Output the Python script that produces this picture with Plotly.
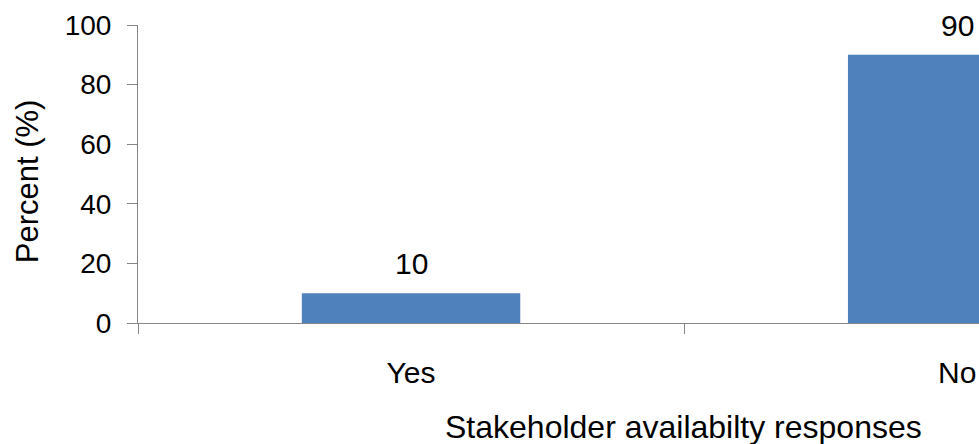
import plotly.graph_objects as go

# Survey responses on stakeholder availability
categories = ["Yes", "No"]
percent = [10, 90]
y_ticks = [0, 20, 40, 60, 80, 100]

BAR_BLUE = "#4F81BD"
AXIS_GREY = "#868686"
FONT = "Liberation Sans, Arial, sans-serif"

fig = go.Figure(
    go.Bar(
        x=categories,
        y=percent,
        marker=dict(color=BAR_BLUE, line=dict(width=0)),
        width=0.4,
        hoverinfo="x+y",
    )
)

# value labels above each bar
for cat, val in zip(categories, percent):
    fig.add_annotation(
        x=cat, y=val, xref="x", yref="y",
        text=str(val), showarrow=False,
        yanchor="bottom", yshift=11,
        font=dict(family=FONT, size=30, color="#000000"),
    )

# axis titles
fig.add_annotation(
    x=0.649, y=-0.349, xref="paper", yref="paper",
    text="Stakeholder availabilty responses", showarrow=False,
    xanchor="center", yanchor="middle",
    font=dict(family=FONT, size=32, color="#000000"),
)
fig.add_annotation(
    x=-0.131, y=0.475, xref="paper", yref="paper",
    text="Percent (%)", showarrow=False, textangle=-90,
    xanchor="center", yanchor="middle",
    font=dict(family=FONT, size=31, color="#000000"),
)

fig.update_layout(
    width=979, height=444,
    margin=dict(l=138, r=0, t=25, b=121, pad=0),
    paper_bgcolor="white", plot_bgcolor="white",
    showlegend=False,
    font=dict(family=FONT, size=30, color="#000000"),
    xaxis=dict(
        type="category",
        range=[-0.5, 1.04],
        showline=True, linecolor=AXIS_GREY, linewidth=1,
        ticks="outside", tickson="boundaries", ticklen=10,
        tickcolor=AXIS_GREY, tickwidth=1,
        showgrid=False, zeroline=False,
        ticklabelstandoff=23,
        tickfont=dict(family=FONT, size=30, color="#000000"),
    ),
    yaxis=dict(
        range=[0, 100],
        tickvals=y_ticks,
        showline=True, linecolor=AXIS_GREY, linewidth=1,
        ticks="outside", ticklen=10,
        tickcolor=AXIS_GREY, tickwidth=1,
        showgrid=False, zeroline=False,
        ticklabelstandoff=10,
        tickfont=dict(family=FONT, size=28, color="#000000"),
    ),
)

fig.write_html("out.html")
